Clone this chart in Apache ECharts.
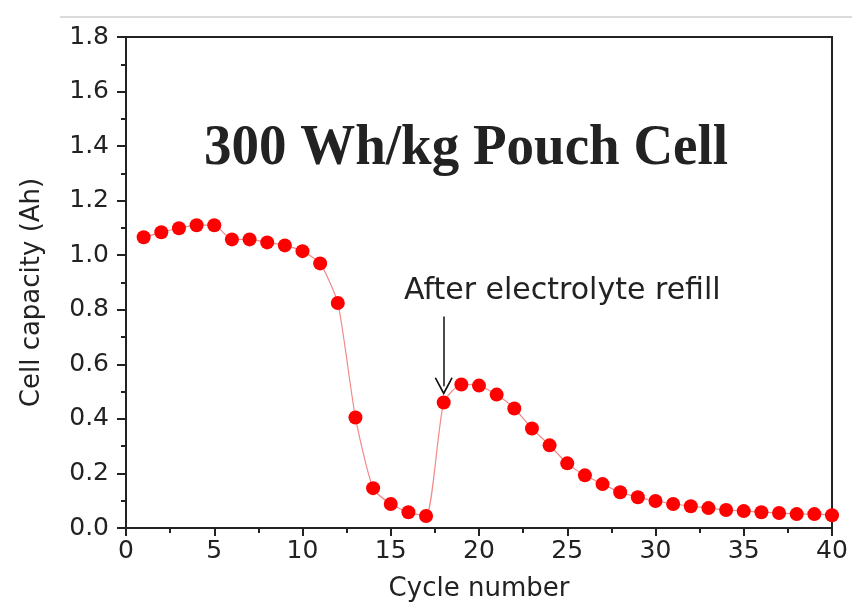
<!DOCTYPE html>
<html>
<head>
    <meta http-equiv="Content-Type" content="text/html; charset=utf-8" />
    <title></title>
    <style>
        html, body { margin: 0; padding: 0; background: #fff; }
    </style>
</head>
<body>
    <div id="chart" style="width: 852px; height: 607px;"></div>
</body>
<script src="https://cdn.jsdelivr.net/npm/echarts@6/dist/echarts.min.js"></script>
<script>
    // cycle numbers and measured capacity (Ah)
    var cycles = [];
    for (var i = 1; i <= 40; i++) cycles.push(i);
    var capacity = [
        1.066, 1.084, 1.099, 1.110, 1.110, 1.058, 1.058, 1.047, 1.036, 1.015,
        0.970, 0.825, 0.405, 0.146, 0.088, 0.058, 0.044, 0.460, 0.526, 0.522,
        0.489, 0.438, 0.365, 0.303, 0.237, 0.193, 0.161, 0.131, 0.113, 0.099,
        0.088, 0.080, 0.073, 0.066, 0.062, 0.058, 0.055, 0.051, 0.051, 0.047
    ];
    var arrowFrom = [18, 0.775];
    var arrowTo = [18, 0.52];

    var chart = echarts.init(document.getElementById('chart'));
    var axisColor = '#222';
    var textColor = '#222';
    var sans = 'DejaVu Sans';

    var pairs = cycles.map(function (c, i) { return [c, capacity[i]]; });

    var option = {
        animation: false,
        grid: { left: 126, right: 20, top: 37, bottom: 77, show: true, borderColor: axisColor, borderWidth: 2 },
        xAxis: {
            type: 'value', min: 0, max: 40, interval: 5,
            name: 'Cycle number', nameLocation: 'middle', nameGap: 48,
            nameTextStyle: { fontFamily: sans, fontSize: 26, color: textColor },
            axisLine: { onZero: false, lineStyle: { color: axisColor, width: 2 } },
            axisTick: { length: 8, lineStyle: { color: axisColor, width: 2 } },
            minorTick: { show: true, splitNumber: 2, length: 5, lineStyle: { color: axisColor, width: 2 } },
            axisLabel: { fontFamily: sans, fontSize: 25, color: textColor, margin: 11 },
            splitLine: { show: false }
        },
        yAxis: {
            type: 'value', min: 0, max: 1.8, interval: 0.2,
            name: 'Cell capacity (Ah)', nameLocation: 'middle', nameGap: 81,
            nameTextStyle: { fontFamily: sans, fontSize: 26, color: textColor, padding: [0, 20, 0, 0] },
            axisLine: { lineStyle: { color: axisColor, width: 2 } },
            axisTick: { length: 9, lineStyle: { color: axisColor, width: 2 } },
            minorTick: { show: true, splitNumber: 2, length: 5, lineStyle: { color: axisColor, width: 2 } },
            axisLabel: {
                fontFamily: sans, fontSize: 25, color: textColor, margin: 17,
                formatter: function (v) { return v.toFixed(1); }
            },
            splitLine: { show: false }
        },
        series: [{
            type: 'line',
            data: pairs,
            symbol: 'circle',
            symbolSize: 14,
            smooth: 0.2,
            lineStyle: { color: '#f28a8a', width: 1.2 },
            itemStyle: { color: '#ff0000' },
            markLine: {
                silent: true,
                symbol: ['none', 'path://M0,0 L10,14 L8.6,15 L0,3 L-8.6,15 L-10,14 Z'],
                symbolSize: [18, 18],
                lineStyle: { color: '#111', width: 1.5, type: 'solid' },
                label: { show: false },
                data: [[{ coord: arrowFrom }, { coord: arrowTo }]]
            }
        }],
        graphic: [
            { type: 'line', shape: { x1: 60, y1: 17, x2: 852, y2: 17 }, style: { stroke: '#cfcfcf', lineWidth: 1.5 } },
            {
                type: 'text', x: 204, y: 149, scaleY: 1.05, z: 10,
                style: { x: 0, y: 0, text: '300 Wh/kg Pouch Cell', font: 'bold 55px "Liberation Serif"', fill: '#222', verticalAlign: 'middle' }
            },
            {
                type: 'text', left: 404, top: 276, z: 10,
                style: { text: 'After electrolyte refill', font: '30px "DejaVu Sans"', fill: '#222' }
            }
        ]
    };
    chart.setOption(option);
</script>
</html>
